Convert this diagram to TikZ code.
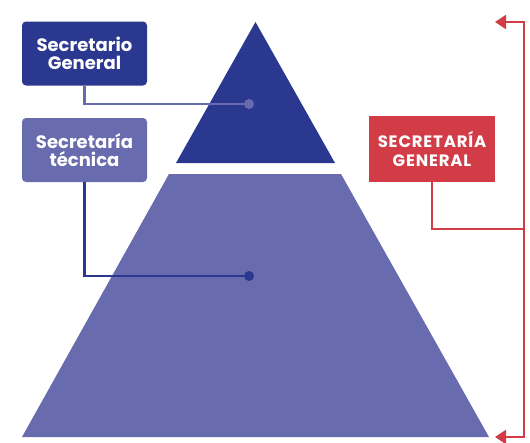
\documentclass[tikz,border=0pt]{standalone}
\usepackage{fontspec}
\setmainfont{Poppins}
\usetikzlibrary{arrows.meta}

\definecolor{darkblue}{HTML}{2B388F}
\definecolor{lightblue}{HTML}{686BAE}
\definecolor{redbox}{HTML}{D23C47}

\tikzset{
  box/.style={text=white, align=center, inner sep=0pt,
    minimum width=125pt, minimum height=64pt,
    font=\bfseries\fontsize{18}{18.5}\selectfont},
  capsbox/.style={box, font=\bfseries\fontsize{16.5}{19}\selectfont\addfontfeatures{LetterSpace=5}},
  dot/.style={circle, inner sep=0pt, minimum size=10pt},
  link/.style={line width=2.2pt},
  tip/.style={-{Triangle[length=11pt,width=14pt]}},
}

\begin{document}
\begin{tikzpicture}[x=1pt,y=-1pt]
\useasboundingbox (0,0) rectangle (530,442);

% Define pyramid corners
\coordinate (A) at (255.5,22);
\fill[darkblue] (A) -- (335,163) -- (176,163) -- cycle;
\fill[lightblue] (169,174) -- (341,174) -- (489,437) -- (22,437) -- cycle;

% Construct left labels
\node[box, fill=darkblue, rounded corners=4pt] (sgen) at (84.5,53.5) {Secretario\\General};
\node[box, fill=lightblue, rounded corners=4pt] (stec) at (84.5,150) {Secretaría\\técnica};

% Construct dots on the pyramid
\node[dot, fill=lightblue] (top) at (249,104) {};
\node[dot, fill=darkblue] (base) at (249,276) {};

% Connect labels to the pyramid
\draw[link, lightblue] (sgen.south) |- (top);
\draw[link, darkblue] (stec.south) |- (base);

% Construct right label and bracket
\node[capsbox, fill=redbox, minimum width=126pt, minimum height=66pt] (sec) at (432,149) {SECRETARÍA\\GENERAL};
\coordinate (R) at (524,229);
\coordinate (T) at (495,22);
\coordinate (B) at (495,437);
\draw[link, redbox] (sec.south) |- (R);
\draw[link, redbox, tip] (R) |- (T);
\draw[link, redbox, tip] (R) |- (B);
\end{tikzpicture}
\end{document}
